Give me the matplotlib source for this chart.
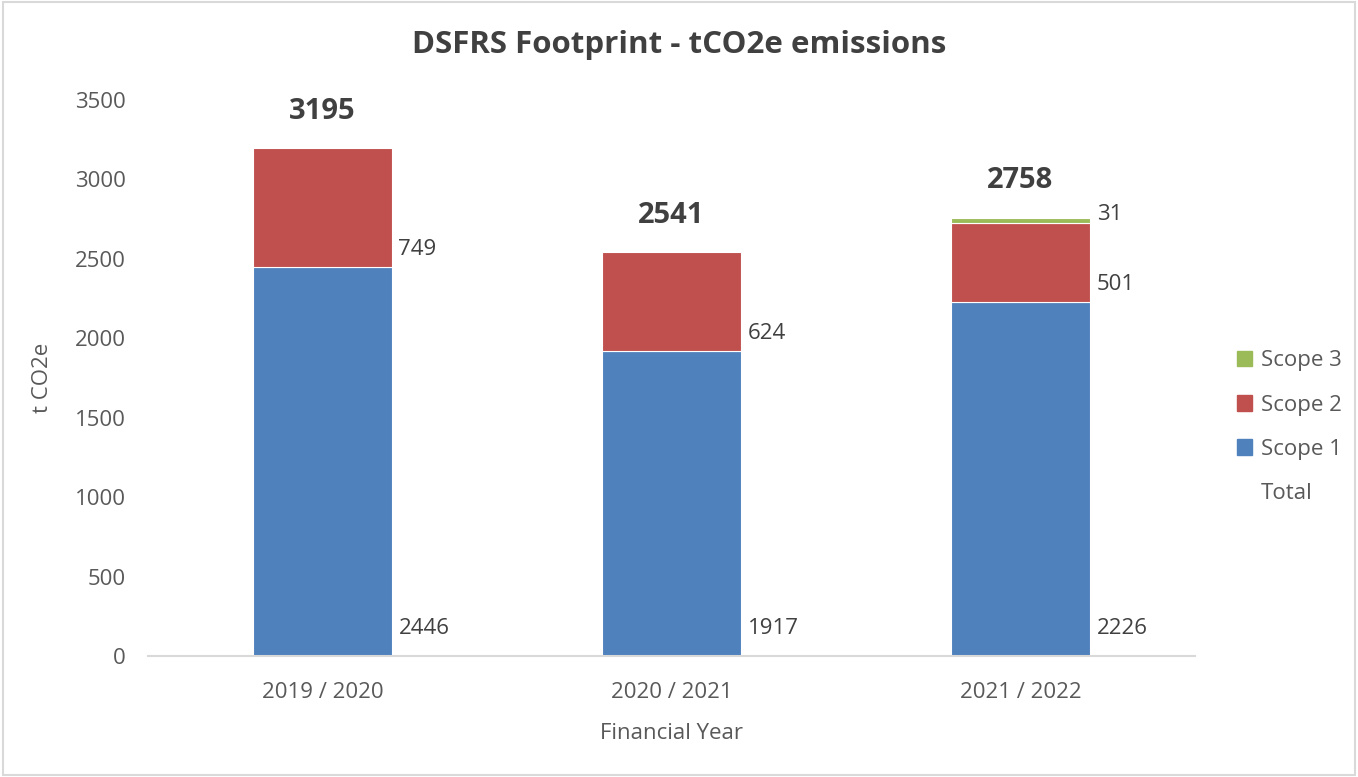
import numpy as np
import matplotlib
matplotlib.use('Agg')
import matplotlib.pyplot as plt
from matplotlib.patches import Patch, Rectangle
from matplotlib.transforms import offset_copy

plt.rcParams['font.family'] = ['Open Sans', 'DejaVu Sans']

# Data
years = ['2019 / 2020', '2020 / 2021', '2021 / 2022']
scope1 = np.array([2446, 1917, 2226])
scope2 = np.array([749, 624, 501])
scope3 = np.array([0, 0, 31])
totals = scope1 + scope2 + scope3

# Colours (Excel palette)
c1 = '#4F81BD'
c2 = '#C0504D'
c3 = '#9BBB59'
txt = '#595959'
dark = '#404040'
fs = 16

fig = plt.figure(figsize=(13.58, 7.77), dpi=100)
ax = fig.add_axes([0.109, 0.1557, 0.771, 0.7156])

x = np.arange(len(years))
w = 0.4
ax.bar(x, scope1, w, color=c1, edgecolor='white', linewidth=0.8, label='Scope 1')
ax.bar(x, scope2, w, bottom=scope1, color=c2, edgecolor='white', linewidth=0.8, label='Scope 2')
ax.bar(x[scope3 > 0], scope3[scope3 > 0], w, bottom=(scope1 + scope2)[scope3 > 0],
       color=c3, edgecolor='white', linewidth=0.8, label='Scope 3')

# Data labels (offsets in pixels)
def label(xi, yi, s, dx, dy, **kw):
    tr = offset_copy(ax.transData, fig=fig, x=dx, y=dy, units='dots')
    ax.text(xi, yi, s, transform=tr, **kw)

for i in range(len(years)):
    label(x[i] + w / 2, 0, str(scope1[i]), 7, 28, ha='left', va='center', fontsize=fs, color=dark)
    label(x[i] + w / 2, scope1[i], str(scope2[i]), 6, 18, ha='left', va='center', fontsize=fs, color=dark)
    if scope3[i] > 0:
        label(x[i] + w / 2, scope1[i] + scope2[i], str(scope3[i]), 7, 8, ha='left', va='center', fontsize=fs, color=dark)
    label(x[i], totals[i], str(totals[i]), 0, 37, ha='center', va='center', fontsize=21,
          fontweight='bold', color=dark)

ax.set_xlim(-0.5, 2.5)
ax.set_ylim(0, 3500)
ax.set_yticks(np.arange(0, 3501, 500))
ax.set_xticks(x)
ax.set_xticklabels(years)
ax.tick_params(axis='both', length=0, labelsize=fs, labelcolor=txt)
ax.tick_params(axis='y', pad=16)
ax.tick_params(axis='x', pad=19)
for s in ['top', 'right', 'left']:
    ax.spines[s].set_visible(False)
ax.spines['bottom'].set_color('#D9D9D9')
ax.spines['bottom'].set_linewidth(1.5)

ax.set_xlabel('Financial Year', fontsize=fs, color=txt, labelpad=14)
ax.set_ylabel('t CO2e', fontsize=fs, color=txt, labelpad=16)
fig.text(0.5, 0.942, 'DSFRS Footprint - tCO2e emissions', ha='center', va='center',
         fontsize=22.5, fontweight='bold', color=dark)

handles = [Patch(color=c3), Patch(color=c2), Patch(color=c1), Patch(facecolor='none', edgecolor='none')]
leg = fig.legend(handles, ['Scope 3', 'Scope 2', 'Scope 1', 'Total'], loc='center left',
                 bbox_to_anchor=(0.896, 0.45), frameon=False, fontsize=fs,
                 handlelength=0.7, handleheight=0.7, handletextpad=0.4, labelspacing=1.05)
for t in leg.get_texts():
    t.set_color(txt)

# Chart border
fig.patches.append(Rectangle((0.002, 0.002), 0.996, 0.996, transform=fig.transFigure,
                             fill=False, edgecolor='#D9D9D9', linewidth=1.5))

fig.savefig('out.png', dpi=100)
